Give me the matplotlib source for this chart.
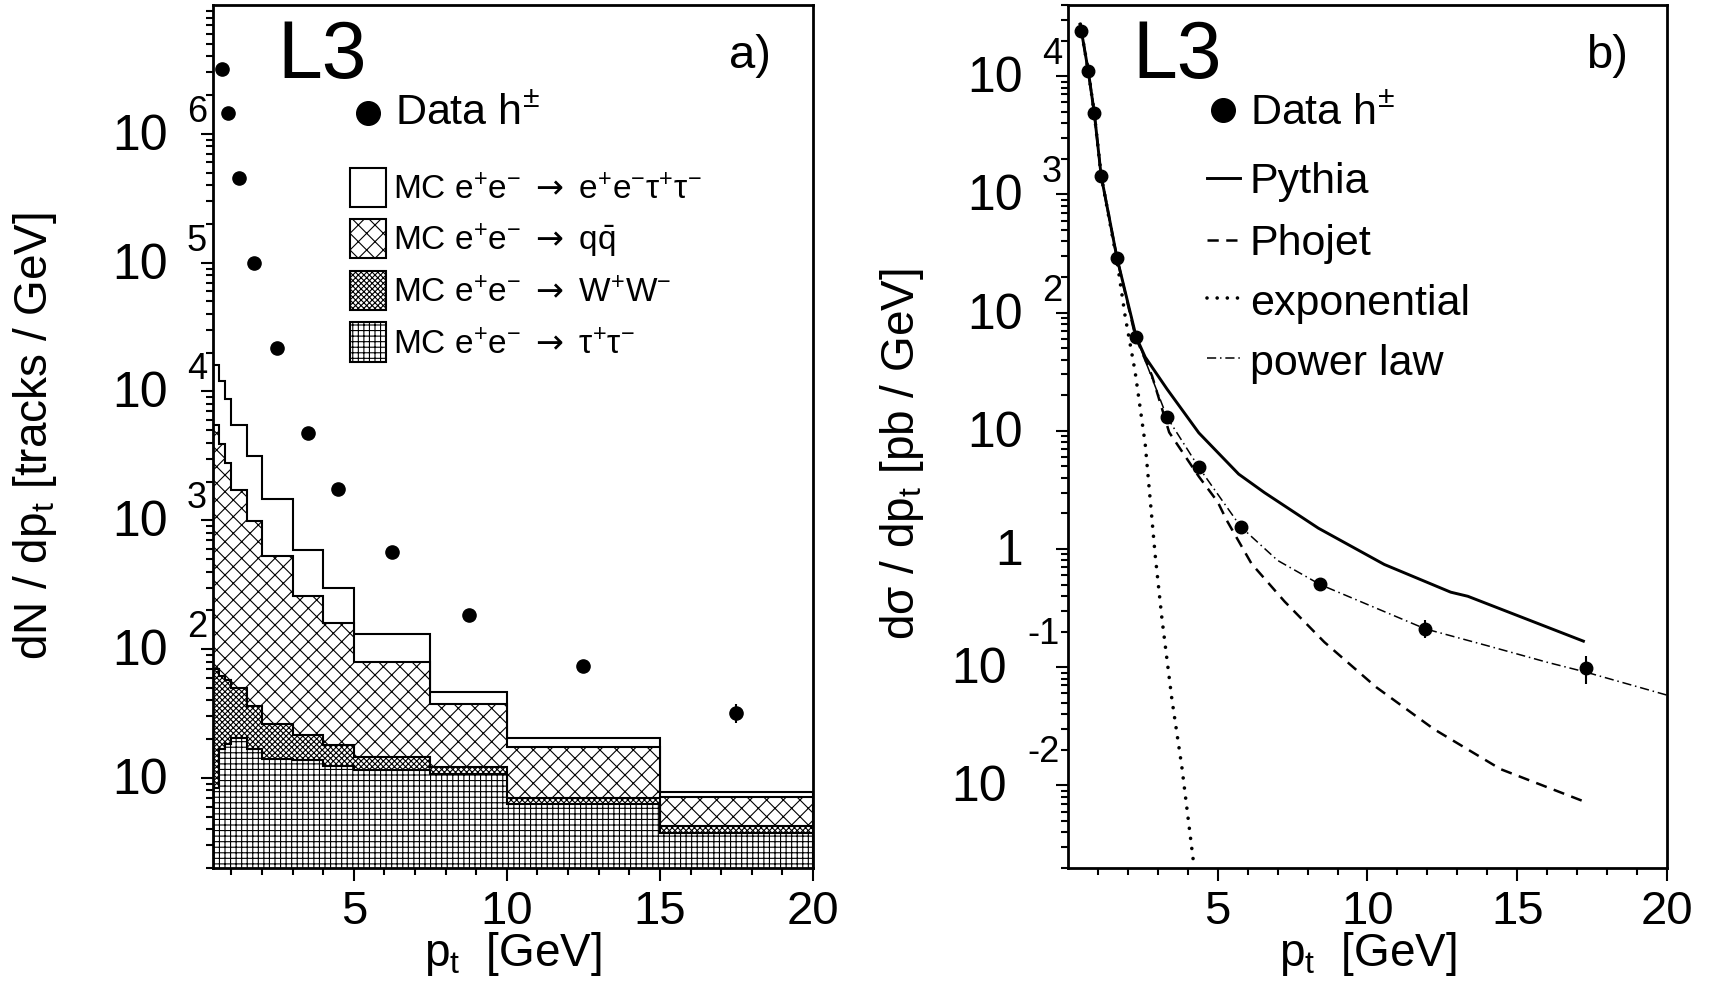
import numpy as np
import matplotlib.pyplot as plt
import matplotlib.transforms as mtransforms
from matplotlib.patches import Rectangle
from matplotlib.ticker import NullFormatter, FixedLocator

plt.rcParams['font.family'] = ['Liberation Sans', 'DejaVu Sans']
plt.rcParams['mathtext.fontset'] = 'custom'
plt.rcParams['mathtext.rm'] = 'Liberation Sans'
plt.rcParams['mathtext.it'] = 'Liberation Sans:italic'
plt.rcParams['mathtext.sf'] = 'DejaVu Sans'
plt.rcParams['mathtext.default'] = 'regular'
plt.rcParams['hatch.linewidth'] = 0.8

# ---- panel a): track spectrum with stacked MC backgrounds ----
pt_edges = [0.4, 0.6, 0.8, 1.0, 1.5, 2.0, 3.0, 4.0, 5.0, 7.5, 10.0, 15.0, 20.0]
# top of each stacked layer (tracks / GeV)
stack_eetautau = [16100, 12100, 8760, 5500, 3160, 1470, 590, 300, 131, 46.5, 20.4, 7.8]
stack_qq = [5500, 3920, 2790, 1720, 990, 530, 259, 160, 79.5, 37.3, 17.4, 7.15]
stack_ww = [70, 62, 58, 50, 36.2, 26.3, 21.6, 18.0, 14.6, 12.2, 7.0, 4.2]
stack_tautau = [8.4, 16.8, 18.5, 20.4, 16.8, 14.0, 13.7, 12.4, 11.5, 10.7, 6.3, 3.75]

data_a_pt = [0.7, 0.9, 1.25, 1.75, 2.5, 3.5, 4.5, 6.25, 8.75, 12.5, 17.5]
data_a_val = [3.2e6, 1.46e6, 4.55e5, 1.0e5, 2.18e4, 4.78e3, 1.74e3, 572, 184, 74.5, 32]
data_a_err = [2e4, 1e4, 4e3, 1e3, 300, 90, 40, 15, 7, 4, 5.5]

# ---- panel b): cross section with model curves ----
data_b_pt = [0.45, 0.68, 0.88, 1.11, 1.64, 2.28, 3.31, 4.36, 5.77, 8.42, 11.93, 17.28]
data_b_val = [24000, 11000, 4870, 1427, 288, 62, 13.2, 4.9, 1.54, 0.51, 0.212, 0.0975]
data_b_err = [300, 150, 60, 20, 5, 1.5, 0.5, 0.25, 0.1, 0.05, 0.037, 0.026]

pythia_pt = [0.41, 0.68, 0.88, 1.11, 1.64, 2.28, 2.58, 3.31, 4.37, 5.70, 6.56, 8.36, 10.56, 12.78, 13.35, 17.21]
pythia_val = [27500, 11000, 4870, 1430, 288, 62, 42, 22.5, 9.6, 4.3, 3.0, 1.5, 0.74, 0.431, 0.398, 0.166]

phojet_pt = [0.41, 0.68, 0.88, 1.11, 1.64, 2.25, 2.81, 3.38, 4.37, 5.0, 5.3, 6.13, 7.23, 8.56, 10.29, 12.22, 14.45, 17.21]
phojet_val = [27500, 11000, 4870, 1430, 288, 63, 29, 9.7, 4.1, 2.5, 1.75, 0.75, 0.36, 0.163, 0.0678, 0.0299, 0.0137, 0.00734]

expo_pt = [0.41, 0.68, 0.88, 1.11, 1.64, 1.91, 2.24, 2.58, 2.91, 3.14, 3.47, 3.80, 4.20]
expo_val = [27500, 11000, 4870, 1430, 272, 93, 31.9, 7.7, 0.90, 0.255, 0.0536, 0.0145, 0.00215]

power_pt = [0.41, 0.68, 0.88, 1.11, 1.64, 2.28, 3.31, 4.37, 5.77, 7.0, 8.42, 10.0, 11.93, 14.0, 16.0, 17.28, 20.0]
power_val = [27500, 11000, 4870, 1430, 290, 62, 13.0, 4.9, 1.54, 0.80, 0.50, 0.339, 0.211, 0.152, 0.110, 0.091, 0.058]

FS = 34

fig = plt.figure(figsize=(17.12, 9.84), dpi=100)
ax1 = fig.add_axes([0.1244, 0.1179, 0.3505, 0.877])
ax2 = fig.add_axes([0.6238, 0.1179, 0.3499, 0.877])


def style_axes(ax, xmin, ymin, ymax):
    ax.set_yscale('log')
    ax.set_xlim(xmin, 20)
    ax.set_ylim(ymin, ymax)
    ax.set_xticks([5, 10, 15, 20])
    ax.xaxis.set_minor_locator(FixedLocator([v for v in range(1, 20) if v % 5]))
    ax.yaxis.set_major_formatter(NullFormatter())
    ax.yaxis.set_minor_formatter(NullFormatter())
    ax.tick_params(which='major', direction='out', length=9, width=1.5,
                   labelsize=FS, pad=7, top=False, right=False)
    ax.tick_params(which='minor', direction='out', length=5, width=1.5,
                   top=False, right=False)
    for sp in ax.spines.values():
        sp.set_linewidth(2)


def shifted(ax, dx, dy):
    return mtransforms.offset_copy(ax.get_yaxis_transform(), fig=fig, x=dx, y=dy, units='dots')


def decade_labels(ax, exps):
    for e in exps:
        y = 10.0 ** e
        if e == 0:
            ax.text(0, y, '1', transform=shifted(ax, -45, -16), ha='right', va='baseline', fontsize=36)
        elif e == 1:
            ax.text(0, y, '10', transform=shifted(ax, -45, -16), ha='right', va='baseline', fontsize=36)
        elif e > 0:
            ax.text(0, y, '10', transform=shifted(ax, -45, -16), ha='right', va='baseline', fontsize=36)
            ax.text(0, y, str(e), transform=shifted(ax, -26, 12), ha='left', va='baseline', fontsize=26)
        else:
            ax.text(0, y, '10', transform=shifted(ax, -61, -16), ha='right', va='baseline', fontsize=36)
            ax.text(0, y, str(e), transform=shifted(ax, -41, 23), ha='left', va='baseline', fontsize=26)


# ---------------- panel a) ----------------
style_axes(ax1, 0.4, 2, 1e7)
ax1.set_yticks([10.0 ** e for e in range(1, 7)])
decade_labels(ax1, range(1, 7))

arrow = r' $\mathsf{\rightarrow}$ '
layers = [
    (stack_eetautau, None, r'MC e$^{+}$e$^{-}$' + arrow + r'e$^{+}$e$^{-}$τ$^{+}$τ$^{-}$'),
    (stack_qq, 'xx', r'MC e$^{+}$e$^{-}$' + arrow + r'q$\bar{q}$'),
    (stack_ww, 'xxxxxx', r'MC e$^{+}$e$^{-}$' + arrow + r'W$^{+}$W$^{-}$'),
    (stack_tautau, '+++', r'MC e$^{+}$e$^{-}$' + arrow + r'τ$^{+}$τ$^{-}$'),
]
for vals, hatch, lab in layers:
    ax1.stairs(vals, pt_edges, baseline=1, fill=True, facecolor='white',
               edgecolor='black', hatch=hatch, linewidth=1.5)

ax1.errorbar(data_a_pt, data_a_val, yerr=data_a_err, fmt='o', ms=9.5,
             color='black', elinewidth=1.5, capsize=0, zorder=5)

# legend of panel a)
ax1.plot([0.2583], [0.8749], 'o', ms=17, color='black', transform=ax1.transAxes)
ax1.text(0.3033, 0.861, r'Data h$^{\pm}$', transform=ax1.transAxes, fontsize=31, va='baseline')
row_centers = [187, 238, 290, 342]
for (vals, hatch, lab), yc in zip(layers, row_centers):
    y0 = (868 - (yc + 19.5)) / 863
    ax1.add_patch(Rectangle((0.2283, y0), 0.06, 0.0452, transform=ax1.transAxes,
                            facecolor='white', edgecolor='black', hatch=hatch, lw=1.5))
    ax1.text(0.30, (868 - (yc + 12)) / 863, lab, transform=ax1.transAxes,
             fontsize=24, va='baseline')

ax1.text(0.1067, 0.9154, 'L3', transform=ax1.transAxes, fontsize=58, va='baseline')
ax1.text(0.93, 0.927, 'a)', transform=ax1.transAxes, fontsize=34, va='baseline', ha='right')

ax1.set_ylabel(r'dN / dp$_{t}$ [tracks / GeV]', fontsize=33)
ax1.yaxis.set_label_coords(-0.297, 0.5)
ax1.yaxis.label.set_verticalalignment('center')
ax1.set_xlabel(r'p$_{t}$  [GeV]', fontsize=33)
ax1.xaxis.set_label_coords(0.5, -0.10)
ax1.xaxis.label.set_verticalalignment('center')

# ---------------- panel b) ----------------
style_axes(ax2, 0, 2e-3, 4e4)
ax2.set_yticks([10.0 ** e for e in range(-2, 5)])
decade_labels(ax2, range(-2, 5))

dot_style = dict(lw=2.6, linestyle=(0, (0.01, 2.8)), dash_capstyle='round')
dash_style = dict(lw=1.8, linestyle=(0, (4.5, 3)))
dashdot_style = dict(lw=1.1, linestyle=(0, (6, 2.5, 1, 2.5)))

ax2.plot(pythia_pt, pythia_val, color='black', lw=2.1)
ax2.plot(phojet_pt, phojet_val, color='black', **dash_style)
ax2.plot(expo_pt, expo_val, color='black', **dot_style)
ax2.plot(power_pt, power_val, color='black', **dashdot_style)
ax2.errorbar(data_b_pt, data_b_val, yerr=data_b_err, fmt='o', ms=9,
             color='black', elinewidth=1.5, capsize=0, zorder=5)

# legend of panel b)
ax2.plot([0.2588], [0.8783], 'o', ms=17, color='black', transform=ax2.transAxes)
ax2.text(0.3038, 0.861, r'Data h$^{\pm}$', transform=ax2.transAxes, fontsize=31, va='baseline')
legend_rows = [
    ('Pythia', 0.7995, 0.782, dict(lw=2.1)),
    ('Phojet', 0.7277, 0.7103, dash_style),
    ('exponential', 0.6605, 0.6408, dot_style),
    ('power law', 0.591, 0.5713, dashdot_style),
]
for name, yl, yt, kw in legend_rows:
    ax2.plot([0.232, 0.287], [yl, yl], color='black', transform=ax2.transAxes, **kw)
    ax2.text(0.3038, yt, name, transform=ax2.transAxes, fontsize=31, va='baseline')

ax2.text(0.1068, 0.9154, 'L3', transform=ax2.transAxes, fontsize=58, va='baseline')
ax2.text(0.935, 0.927, 'b)', transform=ax2.transAxes, fontsize=34, va='baseline', ha='right')

ax2.set_ylabel(r'dσ / dp$_{t}$ [pb / GeV]', fontsize=33)
ax2.yaxis.set_label_coords(-0.277, 0.48)
ax2.yaxis.label.set_verticalalignment('center')
ax2.set_xlabel(r'p$_{t}$  [GeV]', fontsize=33)
ax2.xaxis.set_label_coords(0.5, -0.10)
ax2.xaxis.label.set_verticalalignment('center')

fig.savefig('out.png', dpi=100)
